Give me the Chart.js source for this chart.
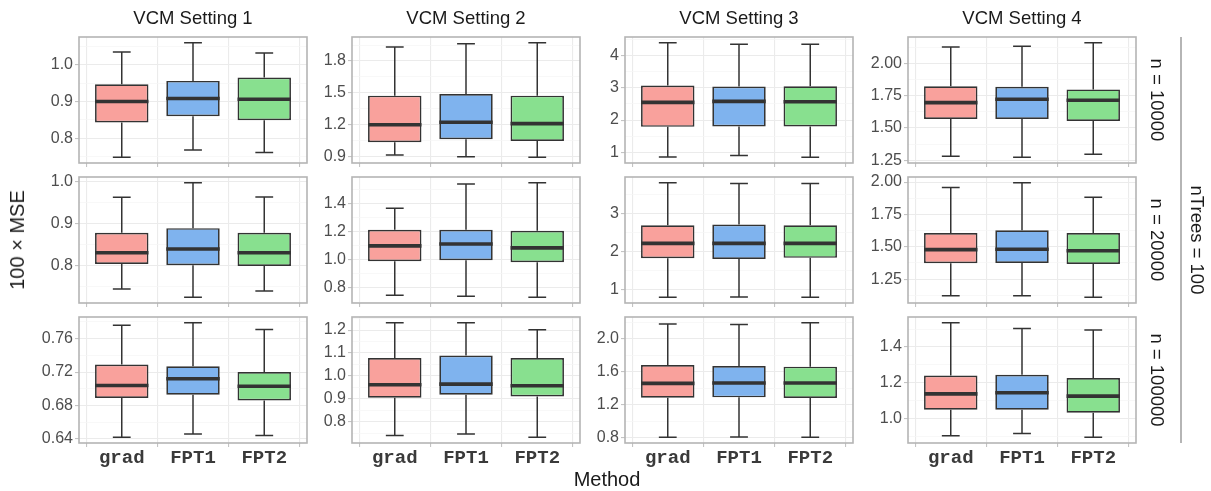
<!DOCTYPE html>
<html><head><meta charset="utf-8">
<script src="https://cdn.jsdelivr.net/npm/chart.js@4.4.1/dist/chart.umd.min.js"></script>
<style>
body{margin:0;background:#fff;width:1211px;height:491px;position:relative;overflow:hidden;font-family:"Liberation Sans",Arial,sans-serif;}
canvas{position:absolute;}
.lab{position:absolute;white-space:nowrap;color:#1a1a1a;line-height:1;}
.rot{transform:translate(-50%,-50%) rotate(90deg);}
.rotl{transform:translate(-50%,-50%) rotate(-90deg);}
.ctr{transform:translate(-50%,-50%);}
</style></head><body>
<script>
// ---------------- DATA ----------------
const methods = ["grad", "FPT1", "FPT2"];
const colTitles = ["VCM Setting 1", "VCM Setting 2", "VCM Setting 3", "VCM Setting 4"];
const rowTitles = ["n = 10000", "n = 20000", "n = 100000"];
const groupTitle = "nTrees = 100";
const yTitle = "100 \u00d7 MSE";
const xTitle = "Method";

// panels in row-major order (row: n, column: VCM setting); each entry = [grad, FPT1, FPT2]
const whiskerLow = [
  [0.748, 0.768, 0.761], [0.916, 0.900, 0.894], [0.856, 0.900, 0.846], [1.280, 1.272, 1.295],
  [0.743, 0.723, 0.738], [0.748, 0.741, 0.734], [0.79, 0.80, 0.79], [1.121, 1.121, 1.110],
  [0.642, 0.646, 0.644], [0.740, 0.746, 0.732], [0.808, 0.812, 0.808], [0.903, 0.916, 0.895]
];
const quartile1 = [
  [0.843, 0.860, 0.849], [1.035, 1.063, 1.048], [1.79, 1.80, 1.80], [1.570, 1.570, 1.554],
  [0.803, 0.800, 0.798], [0.989, 0.996, 0.982], [1.82, 1.80, 1.83], [1.373, 1.375, 1.368],
  [0.689, 0.693, 0.686], [0.905, 0.918, 0.910], [1.287, 1.291, 1.283], [1.049, 1.049, 1.032]
];
const medians = [
  [0.900, 0.908, 0.906], [1.200, 1.223, 1.211], [2.55, 2.58, 2.57], [1.697, 1.723, 1.715],
  [0.830, 0.839, 0.830], [1.098, 1.112, 1.084], [2.21, 2.21, 2.21], [1.478, 1.481, 1.470],
  [0.704, 0.712, 0.703], [0.961, 0.964, 0.957], [1.460, 1.464, 1.464], [1.138, 1.144, 1.125]
];
const quartile3 = [
  [0.947, 0.956, 0.965], [1.474, 1.490, 1.474], [3.07, 3.04, 3.05], [1.824, 1.820, 1.800],
  [0.878, 0.889, 0.878], [1.213, 1.213, 1.206], [2.69, 2.71, 2.69], [1.607, 1.627, 1.607],
  [0.729, 0.727, 0.720], [1.078, 1.089, 1.078], [1.682, 1.670, 1.662], [1.241, 1.245, 1.226]
];
const whiskerHigh = [
  [1.035, 1.060, 1.032], [1.932, 1.963, 1.972], [4.40, 4.35, 4.35], [2.130, 2.135, 2.163],
  [0.963, 0.998, 0.964], [1.365, 1.537, 1.546], [3.81, 3.79, 3.79], [1.959, 1.995, 1.882],
  [0.776, 0.779, 0.771], [1.232, 1.232, 1.201], [2.177, 2.173, 2.193], [1.536, 1.503, 1.495]
];
const yTickLabels = [
  ["0.8", "0.9", "1.0"], ["0.9", "1.2", "1.5", "1.8"], ["1", "2", "3", "4"], ["1.25", "1.50", "1.75", "2.00"],
  ["0.8", "0.9", "1.0"], ["0.8", "1.0", "1.2", "1.4"], ["1", "2", "3"], ["1.25", "1.50", "1.75", "2.00"],
  ["0.64", "0.68", "0.72", "0.76"], ["0.8", "0.9", "1.0", "1.1", "1.2"], ["0.8", "1.2", "1.6", "2.0"], ["1.0", "1.2", "1.4"]
];

// ---------------- STYLE / LAYOUT ----------------
const fills = ["#f9a19c", "#7fb3ee", "#88e08f"];
const dark = "#333333";
const colLeft = [79, 352, 625, 908];
const rowTop = [37, 177, 317];
const PW = 228, PH = 126, YW = 60, M = 10;

function addLabel(text, x, y, cls, size, extra) {
  const d = document.createElement('div');
  d.className = 'lab ' + cls;
  d.textContent = text;
  d.style.left = x + 'px'; d.style.top = y + 'px';
  d.style.fontSize = size + 'px';
  if (extra) Object.assign(d.style, extra);
  document.body.appendChild(d);
}

const framePlugin = {
  id: 'frame',
  afterDraw(chart) {
    const a = chart.chartArea, c = chart.ctx;
    c.save(); c.strokeStyle = '#b5b5b5'; c.lineWidth = 1.6;
    c.strokeRect(a.left, a.top, a.right - a.left, a.bottom - a.top);
    c.restore();
  }
};

function makePanel(p) {
  const r = Math.floor(p / 4), col = p % 4;
  const bottom = r === 2;
  const bottomH = bottom ? 30 : 8;
  const cv = document.createElement('canvas');
  const W = YW + PW + M, H = M + PH + bottomH;
  cv.width = W; cv.height = H;
  cv.style.left = (colLeft[col] - YW) + 'px';
  cv.style.top = (rowTop[r] - M) + 'px';
  cv.style.width = W + 'px'; cv.style.height = H + 'px';
  document.body.appendChild(cv);

  const lo = whiskerLow[p], q1 = quartile1[p], md = medians[p], q3 = quartile3[p], hi = whiskerHigh[p];
  const xs = methods.map((m, i) => i + 1);
  const dmin = Math.min(...lo), dmax = Math.max(...hi), rng = dmax - dmin;
  const ymin = dmin - 0.05 * rng, ymax = dmax + 0.05 * rng;
  const major = yTickLabels[p].map(Number);
  const step = major[1] - major[0];
  const minor = [];
  for (let v = major[0] - step / 2; v <= major[major.length - 1] + step / 2 + 1e-9; v += step) {
    if (v >= ymin && v <= ymax) minor.push(v);
  }
  const isMajor = v => major.some(m => Math.abs(m - v) < 1e-9);
  const allTicks = major.concat(minor).sort((a, b) => a - b);

  const whisk = [], caps = [], meds = [];
  xs.forEach((x, i) => {
    whisk.push({x, y: lo[i]}, {x, y: q1[i]}, {x, y: null}, {x, y: q3[i]}, {x, y: hi[i]}, {x, y: null});
    caps.push({x: x - 0.125, y: hi[i]}, {x: x + 0.125, y: hi[i]}, {x, y: null},
              {x: x - 0.125, y: lo[i]}, {x: x + 0.125, y: lo[i]}, {x, y: null});
    meds.push({x: x - 0.375, y: md[i]}, {x: x + 0.375, y: md[i]}, {x, y: null});
  });

  new Chart(cv, {
    type: 'bar',
    data: {
      datasets: [
        {type: 'bar', data: xs.map((x, i) => ({x, y: [q1[i], q3[i]]})), backgroundColor: fills,
         borderColor: dark, borderWidth: 1.7, borderSkipped: false, barPercentage: 0.75, categoryPercentage: 1, order: 2},
        {type: 'line', data: whisk, borderColor: dark, borderWidth: 1.5, pointRadius: 0, spanGaps: false, order: 3},
        {type: 'line', data: caps, borderColor: dark, borderWidth: 1.5, pointRadius: 0, spanGaps: false, order: 3},
        {type: 'line', data: meds, borderColor: dark, borderWidth: 3.6, pointRadius: 0, spanGaps: false, order: 1}
      ]
    },
    options: {
      responsive: false, animation: false, devicePixelRatio: 1,
      events: [],
      layout: {padding: {left: 0, top: M, right: M, bottom: 0}},
      plugins: {legend: {display: false}, tooltip: {enabled: false}},
      scales: {
        x: {
          type: 'linear', min: 0.4, max: 3.6, offset: false,
          afterBuildTicks: s => { s.ticks = xs.map(v => ({value: v})); },
          afterFit: s => { s.height = bottomH; s.paddingLeft = 0; s.paddingRight = 0; },
          grid: {color: '#ebebeb', lineWidth: 1.1, drawTicks: true, tickLength: 4, tickColor: '#c4c4c4'},
          border: {display: false},
          ticks: {
            display: bottom, padding: 0, autoSkip: false, maxRotation: 0,
            callback: v => methods[Math.round(v) - 1] || '',
            color: '#3a3a3a',
            font: {family: '"Liberation Mono", "Courier New", monospace', weight: 'bold', size: 19}
          }
        },
        y: {
          type: 'linear', min: ymin, max: ymax,
          afterBuildTicks: s => { s.ticks = allTicks.map(v => ({value: v})); },
          afterFit: s => { s.width = YW; s.paddingTop = 0; s.paddingBottom = 0; },
          grid: {
            color: c => isMajor(c.tick.value) ? '#ebebeb' : '#f5f5f5',
            lineWidth: c => isMajor(c.tick.value) ? 1.1 : 0.7,
            drawTicks: true, tickLength: 4,
            tickColor: c => isMajor(c.tick.value) ? '#c4c4c4' : 'rgba(0,0,0,0)'
          },
          border: {display: false},
          ticks: {
            padding: 2, autoSkip: false,
            callback: v => { const k = major.findIndex(m => Math.abs(m - v) < 1e-9); return k >= 0 ? yTickLabels[p][k] : ''; },
            color: '#4d4d4d',
            font: {family: '"Liberation Sans", Arial, sans-serif', size: 16}
          }
        }
      }
    },
    plugins: [framePlugin]
  });
}

for (let p = 0; p < 12; p++) makePanel(p);

colTitles.forEach((t, c) => addLabel(t, colLeft[c] + PW / 2, 18, 'ctr', 18.5));
rowTitles.forEach((t, r) => addLabel(t, 1157, rowTop[r] + PH / 2, 'rot', 18.5));
addLabel(groupTitle, 1197, 240, 'rot', 18.5);
addLabel(yTitle, 17, 240, 'rotl', 20);
addLabel(xTitle, 607, 479, 'ctr', 20);
const vl = document.createElement('div');
Object.assign(vl.style, {position: 'absolute', left: '1180px', top: '37px', width: '1.5px', height: '406px', background: '#b5b5b5'});
document.body.appendChild(vl);
</script>
</body></html>
